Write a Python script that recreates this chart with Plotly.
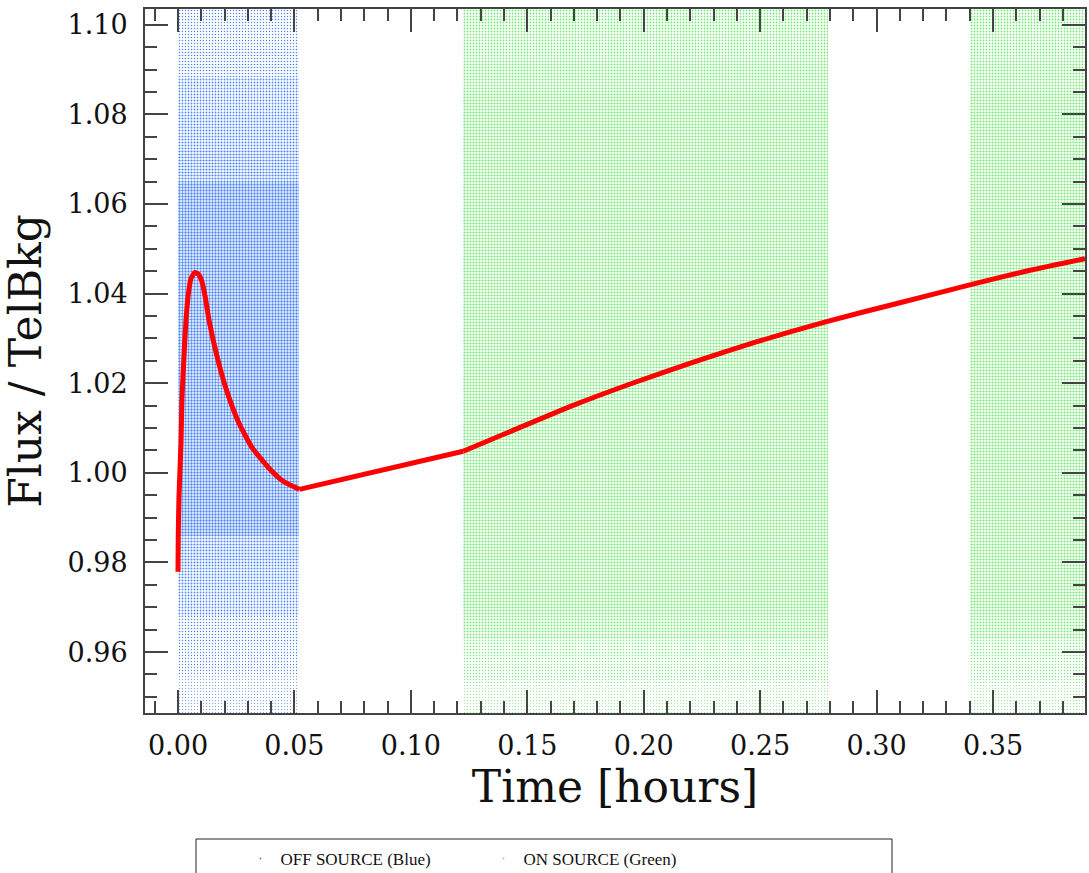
import plotly.graph_objects as go

# ---------------- data ----------------
# red model curve (three pieces)
curve_a_t = [0.0, 0.0001, 0.0004, 0.0013, 0.0017, 0.0026, 0.0034, 0.0044, 0.0056, 0.0073,
             0.0088, 0.0102, 0.0116, 0.01345, 0.0166, 0.0206, 0.0259, 0.0316, 0.0388,
             0.0452, 0.0521]
curve_a_v = [0.9779, 0.9853, 0.9943, 1.0069, 1.0166, 1.0263, 1.0337, 1.0397, 1.0434, 1.0447,
             1.0443, 1.0428, 1.0395, 1.0337, 1.0263, 1.0188, 1.0114, 1.0058, 1.0012,
             0.9981, 0.9963]
curve_b_t = [0.0521, 0.1225]
curve_b_v = [0.9963, 1.0048]
curve_c_t = [0.1225, 0.1431, 0.1694, 0.1957, 0.2220, 0.2483, 0.2781, 0.3096, 0.3413,
             0.3658, 0.3895]
curve_c_v = [1.0048, 1.0093, 1.0150, 1.0201, 1.0248, 1.0292, 1.0337, 1.0379, 1.0421,
             1.0452, 1.0478]

# OFF SOURCE (blue) point cloud: time span and density bands (flux ranges)
off_t_start = [0.0]
off_t_end = [0.052]
off_band_edges = [0.946, 0.955, 0.962, 0.968, 0.974, 0.980, 0.986,
                  1.065, 1.072, 1.080, 1.088, 1.095, 1.104]
off_density = [0.09, 0.14, 0.20, 0.27, 0.34, 0.41, 0.48, 0.43, 0.36, 0.29, 0.23, 0.18]

# ON SOURCE (green) point clouds
on_t_start = [0.1225, 0.3400]
on_t_end = [0.2790, 0.3900]
on_band_edges = [0.946, 0.953, 0.958, 0.963, 0.968, 1.085, 1.092, 1.104]
on_density = [0.09, 0.16, 0.24, 0.33, 0.42, 0.36, 0.29]

x_ticks = [0.00, 0.05, 0.10, 0.15, 0.20, 0.25, 0.30, 0.35]
y_ticks = [0.96, 0.98, 1.00, 1.02, 1.04, 1.06, 1.08, 1.10]

BLUE = "#4f88f2"
GREEN = "#78ea78"
RED = "#ff0000"
AXC = "#444444"
SERIF = "DejaVu Serif"

fig = go.Figure()


def cloud(starts, ends, edges, dens, color):
    xs, ws, bs, hs, ss = [], [], [], [], []
    for a, b in zip(starts, ends):
        for i, d in enumerate(dens):
            xs.append((a + b) / 2)
            ws.append(b - a)
            bs.append(edges[i])
            hs.append(edges[i + 1] - edges[i])
            ss.append(d)
    fig.add_trace(go.Bar(
        x=xs, y=hs, base=bs, width=ws, showlegend=False, hoverinfo="skip",
        marker=dict(color=color, line=dict(width=0),
                    pattern=dict(shape=".", size=3, solidity=ss,
                                 fgcolor=color, fillmode="replace")),
    ))


cloud(off_t_start, off_t_end, off_band_edges, off_density, BLUE)
cloud(on_t_start, on_t_end, on_band_edges, on_density, GREEN)

# legend entries (tiny dots, like the original point markers)
fig.add_trace(go.Scatter(x=[None], y=[None], mode="markers", name="OFF SOURCE (Blue)",
                         marker=dict(color=BLUE, size=2)))
fig.add_trace(go.Scatter(x=[None], y=[None], mode="markers", name="ON SOURCE (Green)",
                         marker=dict(color=GREEN, size=2)))

for t, v, shape in [(curve_a_t, curve_a_v, "spline"),
                    (curve_b_t, curve_b_v, "linear"),
                    (curve_c_t, curve_c_v, "spline")]:
    fig.add_trace(go.Scatter(x=t, y=v, mode="lines", showlegend=False,
                             line=dict(color=RED, width=5, shape=shape, smoothing=0.5)))

axis_common = dict(
    showline=True, linecolor=AXC, linewidth=2, mirror="allticks",
    ticks="inside", ticklen=23, tickwidth=2, tickcolor=AXC,
    showgrid=False, zeroline=False, automargin=False,
    tickfont=dict(family=SERIF, size=27, color="#111111"),
    minor=dict(ticks="inside", ticklen=12, tickwidth=2, tickcolor=AXC, showgrid=False),
)

fig.update_layout(
    width=1089, height=873,
    margin=dict(l=145, r=4, t=9, b=160),
    paper_bgcolor="white", plot_bgcolor="white",
    barmode="overlay", bargap=0,
    xaxis=dict(**axis_common, range=[-0.01417, 0.3895], tickvals=x_ticks,
               tickformat=".2f", ticklabelstandoff=8,
               title=dict(text="Time [hours]", font=dict(family=SERIF, size=44, color="#111111"),
                          standoff=6)),
    yaxis=dict(**axis_common, range=[0.9464, 1.1035], tickvals=y_ticks,
               tickformat=".2f", ticklabelstandoff=10,
               title=dict(text="Flux / TelBkg", font=dict(family=SERIF, size=44, color="#111111"),
                          standoff=14)),
    legend=dict(orientation="h", x=0.2208, xanchor="left", xref="container",
                y=(873 - 841) / 873, yanchor="top", yref="container",
                font=dict(family="Liberation Serif", size=17, color="#111111"),
                entrywidth=198, entrywidthmode="pixels",
                bgcolor="rgba(0,0,0,0)", borderwidth=0),
    shapes=[dict(type="rect", xref="paper", yref="paper",
                 x0=(196 - 145) / 940, x1=(892 - 145) / 940,
                 y0=(713 - 880) / 704, y1=(713 - 839) / 704,
                 line=dict(color="#222222", width=1), fillcolor="rgba(0,0,0,0)")],
)
fig.update_xaxes(minor_dtick=0.01, minor_tick0=0)
fig.update_yaxes(minor_dtick=0.005, minor_tick0=0.96)

fig.write_html("out.html", config={"displayModeBar": False},
               post_script="document.body.style.margin='0';document.body.style.padding='0';"
                           "document.body.style.overflow='hidden';")
